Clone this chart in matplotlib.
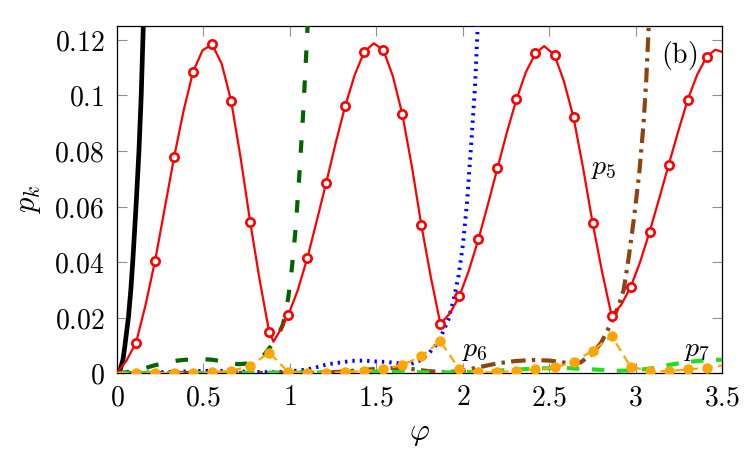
import numpy as np
import matplotlib
matplotlib.use("Agg")
import matplotlib.pyplot as plt

plt.rcParams['mathtext.fontset'] = 'cm'
plt.rcParams['font.family'] = ['DejaVu Serif']

# ---------------- data ----------------
# black solid curve
phi_black = [0, 0.02, 0.035, 0.046, 0.066, 0.08, 0.091, 0.11, 0.127, 0.14, 0.152, 0.165]
p_black = [0, 0.0015, 0.005, 0.01, 0.02, 0.03, 0.04, 0.06, 0.08, 0.1, 0.125, 0.15]

# dark green dashed curve
phi_dgreen = [0, 0.05, 0.1, 0.16, 0.2, 0.25, 0.3, 0.35, 0.4, 0.45, 0.5, 0.55, 0.6,
              0.65, 0.7, 0.75, 0.8, 0.85, 0.9, 0.93, 0.96, 0.99, 1.01, 1.03, 1.05,
              1.075, 1.1, 1.115]
p_dgreen = [0, 0.0002, 0.0008, 0.0017, 0.0025, 0.0033, 0.004, 0.0045, 0.0048, 0.005,
            0.005, 0.0048, 0.0043, 0.0037, 0.0032, 0.0034, 0.0045, 0.0065, 0.0105,
            0.0135, 0.0175, 0.027, 0.037, 0.05, 0.067, 0.092, 0.122, 0.145]

# blue dotted curve
phi_blue = [0, 0.2, 0.4, 0.5, 0.6, 0.7, 0.8, 0.9, 1.0, 1.1, 1.16, 1.22, 1.29, 1.36,
            1.42, 1.49, 1.56, 1.63, 1.7, 1.75, 1.8, 1.85, 1.885, 1.915, 1.945, 1.975,
            2.0, 2.025, 2.05, 2.07, 2.086, 2.1]
p_blue = [0, 0.0002, 0.0006, 0.0008, 0.0008, 0.0006, 0.0004, 0.0003, 0.0006, 0.0013,
          0.0022, 0.0032, 0.0038, 0.0044, 0.0045, 0.0042, 0.004, 0.0035, 0.0033,
          0.0045, 0.0068, 0.0105, 0.0148, 0.019, 0.026, 0.035, 0.046, 0.062, 0.084,
          0.103, 0.125, 0.145]

# brown dash-dot curve
phi_brown = [0, 1.2, 1.3, 1.4, 1.5, 1.6, 1.7, 1.8, 1.9, 2.0, 2.1, 2.2, 2.3, 2.4, 2.5,
             2.56, 2.62, 2.68, 2.75, 2.8, 2.85, 2.9, 2.93, 2.96, 2.99, 3.02, 3.045,
             3.06, 3.075, 3.09]
p_brown = [0, 0.0001, 0.0005, 0.001, 0.0015, 0.0018, 0.0015, 0.0007, 0.0003, 0.0008,
           0.0022, 0.0035, 0.0043, 0.0047, 0.0045, 0.004, 0.0035, 0.0038, 0.007,
           0.011, 0.017, 0.024, 0.03, 0.042, 0.056, 0.072, 0.09, 0.105, 0.125, 0.145]

# light green dashed curve (p7)
phi_lgreen = [0, 0.5, 1.0, 1.3, 1.5, 1.7, 1.9, 2.1, 2.3, 2.45, 2.6, 2.75, 2.9, 3.0,
              3.1, 3.2, 3.3, 3.4, 3.5]
p_lgreen = [0, 0, 0.0001, 0.0003, 0.0005, 0.0003, 0.0002, 0.0005, 0.0012, 0.0017,
            0.0018, 0.0013, 0.0008, 0.001, 0.0018, 0.003, 0.004, 0.0046, 0.0048]

# red solid curve (p5)
phi_p5 = [0.0, 0.055, 0.11, 0.165, 0.22, 0.275, 0.33, 0.385, 0.44, 0.495, 0.55, 0.605,
          0.66, 0.715, 0.77, 0.825, 0.88, 0.905, 0.935, 0.99, 1.045, 1.10, 1.155, 1.21,
          1.265, 1.32, 1.375, 1.43, 1.485, 1.54, 1.595, 1.65, 1.705, 1.76, 1.815, 1.87,
          1.925, 1.98, 2.035, 2.09, 2.145, 2.20, 2.255, 2.31, 2.365, 2.42, 2.47, 2.53,
          2.585, 2.64, 2.695, 2.75, 2.805, 2.86, 2.915, 2.97, 3.025, 3.08, 3.135, 3.19,
          3.245, 3.30, 3.355, 3.41, 3.46, 3.50]
p5 = [0, 0.0045, 0.0109, 0.0245, 0.0404, 0.059, 0.0777, 0.0945, 0.1086, 0.1163, 0.1184,
      0.1115, 0.0981, 0.0775, 0.0545, 0.0335, 0.0148, 0.0113, 0.0145, 0.0208, 0.0298,
      0.0413, 0.0548, 0.0686, 0.083, 0.0963, 0.1075, 0.1158, 0.1188, 0.1164, 0.107,
      0.0932, 0.0745, 0.0533, 0.0345, 0.0177, 0.0215, 0.0277, 0.037, 0.0482, 0.0608,
      0.0738, 0.0868, 0.0986, 0.1085, 0.1152, 0.1178, 0.1146, 0.105, 0.0921, 0.074,
      0.0542, 0.0365, 0.0207, 0.0245, 0.0309, 0.04, 0.0509, 0.0628, 0.075, 0.087,
      0.0984, 0.1075, 0.114, 0.1165, 0.1157]

# marker positions shared by p5 and p6
phi_marks = [0.11, 0.22, 0.33, 0.44, 0.55, 0.66, 0.77, 0.88, 0.99, 1.10, 1.21, 1.32,
             1.43, 1.54, 1.65, 1.76, 1.87, 1.98, 2.09, 2.20, 2.31, 2.42, 2.53, 2.64,
             2.75, 2.86, 2.97, 3.08, 3.19, 3.30, 3.41]
p5_marks = [0.0109, 0.0404, 0.0777, 0.1086, 0.1184, 0.0981, 0.0545, 0.0148, 0.0208,
            0.0413, 0.0686, 0.0963, 0.1158, 0.1164, 0.0932, 0.0533, 0.0177, 0.0277,
            0.0482, 0.0738, 0.0986, 0.1152, 0.1146, 0.0921, 0.0542, 0.0207, 0.0309,
            0.0509, 0.075, 0.0984, 0.114]

# orange curve (p6)
phi_p6 = [0.0] + phi_marks + [3.5]
p6 = [0, 0, 0, 0, 0.0001, 0.0002, 0.0008, 0.0025, 0.0074, 0.0004, 0.0001, 0.0001,
      0.0003, 0.0007, 0.0014, 0.0029, 0.006, 0.0115, 0.0013, 0.0003, 0.0003, 0.0008,
      0.0013, 0.002, 0.004, 0.008, 0.0134, 0.0023, 0.0007, 0.0007, 0.0013, 0.0019,
      0.0027]
p6_marks = p6[1:-1]

xticks = [0, 0.5, 1, 1.5, 2, 2.5, 3, 3.5]
xticklabels = ['0', '0.5', '1', '1.5', '2', '2.5', '3', '3.5']
yticks = [0, 0.02, 0.04, 0.06, 0.08, 0.1, 0.12]
yticklabels = ['0', '0.02', '0.04', '0.06', '0.08', '0.1', '0.12']

# ---------------- plot ----------------
fig = plt.figure(figsize=(7.5, 4.5), dpi=100)
ax = fig.add_axes([0.156, 0.171, 0.807, 0.771])

ax.plot(phi_black, p_black, color='black', lw=3.4, solid_capstyle='butt', zorder=3)
ax.plot(phi_dgreen, p_dgreen, color='#006400', lw=3.0, dashes=(3.0, 4.2), zorder=3)
ax.plot(phi_blue, p_blue, color='#0000ff', lw=2.8, dashes=(0.6, 1.3), zorder=3)
ax.plot(phi_brown, p_brown, color='#8b4513', lw=3.0, dashes=(3.5, 1.5, 0.8, 1.5), zorder=3)
ax.plot(phi_lgreen, p_lgreen, color='#22dd22', lw=3.0, dashes=(3.0, 3.0), zorder=3)

ax.plot(phi_p5, p5, color='#ff0000', lw=1.6, zorder=4)
ax.plot(phi_marks, p5_marks, ls='none', marker='o', ms=6, mfc='white',
        mec='#ff0000', mew=1.9, zorder=5)

ax.plot(phi_p6, p6, color='#ffa500', lw=1.6, dashes=(4, 2.5), zorder=6)
ax.plot(phi_marks, p6_marks, ls='none', marker='o', ms=7.5, mfc='#ffa500',
        mec='#ffa500', mew=0, zorder=7)

ax.set_xlim(0, 3.5)
ax.set_ylim(0, 0.125)
ax.set_xticks(xticks)
ax.set_xticklabels(['$' + t + '$' for t in xticklabels])
ax.set_yticks(yticks)
ax.set_yticklabels(['$' + t + '$' for t in yticklabels])
ax.tick_params(direction='in', top=True, right=True, length=7, width=0.8,
               color='#909090', labelsize=20)
ax.tick_params(axis='x', pad=8)
ax.tick_params(axis='y', pad=9)
for s in ax.spines.values():
    s.set_linewidth(0.9)

ax.set_xlabel(r'$\varphi$', fontsize=22, labelpad=4)
ax.set_ylabel(r'$p_k$', fontsize=22, labelpad=8)

ax.text(2.74, 0.0742, r'$p_5$', fontsize=20, ha='left', va='center', zorder=8)
ax.text(1.995, 0.0085, r'$p_6$', fontsize=20, ha='left', va='center', zorder=8)
ax.text(3.28, 0.0085, r'$p_7$', fontsize=20, ha='left', va='center', zorder=8)
ax.text(3.253, 0.1145, r'$\mathrm{(b)}$', fontsize=20, ha='center', va='center', zorder=8)

fig.savefig('out.png', dpi=100)
